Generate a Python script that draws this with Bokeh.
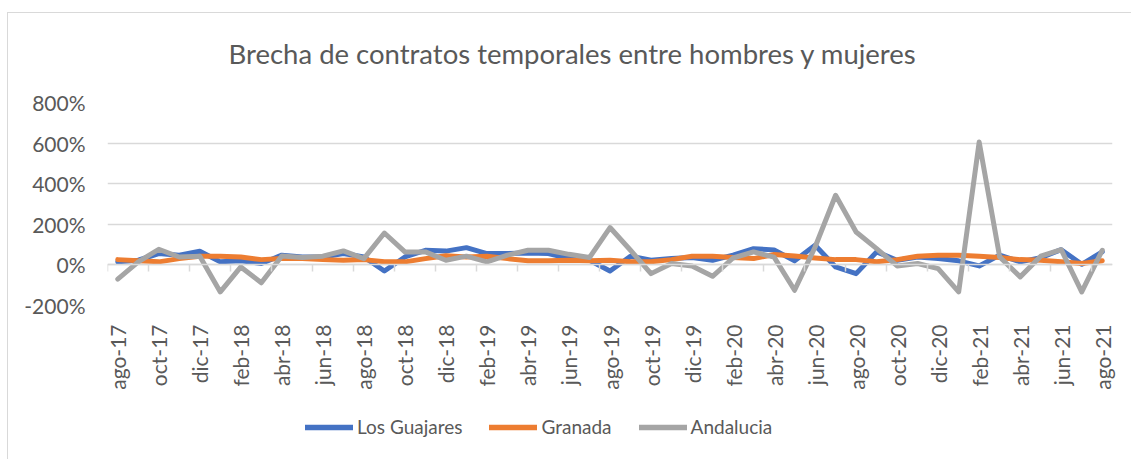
import math
from bokeh.plotting import figure
from bokeh.layouts import column
from bokeh.models import (Range1d, FixedTicker, LinearAxis, PrintfTickFormatter,
                          Legend, LegendItem, Title)
from bokeh.embed import file_html
from bokeh.resources import INLINE

months = ["ago-17", "sep-17", "oct-17", "nov-17", "dic-17", "ene-18", "feb-18", "mar-18",
          "abr-18", "may-18", "jun-18", "jul-18", "ago-18", "sep-18", "oct-18", "nov-18",
          "dic-18", "ene-19", "feb-19", "mar-19", "abr-19", "may-19", "jun-19", "jul-19",
          "ago-19", "sep-19", "oct-19", "nov-19", "dic-19", "ene-20", "feb-20", "mar-20",
          "abr-20", "may-20", "jun-20", "jul-20", "ago-20", "sep-20", "oct-20", "nov-20",
          "dic-20", "ene-21", "feb-21", "mar-21", "abr-21", "may-21", "jun-21", "jul-21",
          "ago-21"]

los_guajares = [15, 23, 56, 48, 67, 15, 20, 7, 48, 39, 39, 56, 39, -30, 39, 72, 68,
                85, 56, 56, 59, 56, 31, 23, -30, 43, 23, 31, 36, 23, 48, 80, 74,
                20, 97, -10, -43, 64, 23, 39, 31, 20, -5, 48, 15, 36, 75, 3, 64]
granada = [26, 20, 15, 31, 43, 43, 39, 26, 31, 31, 26, 23, 26, 15, 15, 31, 45,
           39, 43, 31, 20, 20, 23, 20, 23, 15, 15, 26, 43, 43, 36, 31, 51,
           44, 34, 26, 26, 15, 26, 43, 48, 48, 43, 36, 26, 23, 15, 7, 20]
andalucia = [-70, 15, 77, 39, 43, -133, -10, -88, 44, 36, 43, 69, 31, 157, 64, 64, 23,
             43, 15, 48, 72, 72, 52, 36, 184, 72, -43, 7, -5, -56, 34, 64, 38,
             -125, 88, 343, 162, 80, -5, 7, -18, -133, 605, 39, -59, 43, 75, -133, 72]

series_names = ["Los Guajares", "Granada", "Andalucia"]
series_colors = ["#4472C4", "#ED7D31", "#A5A5A5"]
y_ticks = [-200, 0, 200, 400, 600, 800]
title_text = "Brecha de contratos temporales entre hombres y mujeres"

FONT = "Lato"
TXT = "#595959"
GRID = "#d9d9d9"

idx = list(range(len(months)))
series = [los_guajares, granada, andalucia]

p = figure(width=1131, height=400, output_backend="svg", toolbar_location=None,
           x_range=Range1d(-0.5, len(months) - 0.5), y_range=Range1d(-200, 800),
           x_axis_location=None, y_axis_location=None,
           min_border_left=107, min_border_right=19, min_border_top=102, min_border_bottom=95)
p.outline_line_color = None
p.background_fill_color = "white"
p.border_fill_color = None
p.styles = {"background": "linear-gradient(#d9d9d9,#d9d9d9) 7px 12px / 1px 100% no-repeat, "
                          "linear-gradient(#d9d9d9,#d9d9d9) 7px 12px / 100% 1px no-repeat, white"}

p.add_layout(Title(text=title_text, align="left", offset=121, standoff=66, text_font=FONT,
                   text_font_size="27.5px", text_color=TXT, text_font_style="normal"), "above")

# y axis
yax = LinearAxis(ticker=FixedTicker(ticks=y_ticks), formatter=PrintfTickFormatter(format="%d%%"))
yax.axis_line_color = None
yax.major_tick_line_color = None
yax.minor_tick_line_color = None
yax.major_label_text_font = FONT
yax.major_label_text_font_size = "21px"
yax.major_label_text_color = TXT
yax.major_label_standoff = 16
p.add_layout(yax, "left")

p.ygrid.ticker = FixedTicker(ticks=y_ticks)
p.ygrid.grid_line_color = GRID
p.ygrid.grid_line_width = 1.5
p.xgrid.grid_line_color = None

# zero axis with boundary ticks
zax = LinearAxis(ticker=FixedTicker(ticks=[i - 0.5 for i in idx[::2]]), fixed_location=0)
zax.axis_line_color = GRID
zax.axis_line_width = 1.5
zax.major_tick_line_color = GRID
zax.major_tick_line_width = 1.5
zax.major_tick_out = 7
zax.major_tick_in = 0
zax.minor_tick_line_color = None
zax.major_label_text_font_size = "0px"
zax.major_label_standoff = 0
p.add_layout(zax, "below")

# category labels
xax = LinearAxis(ticker=FixedTicker(ticks=idx[::2]),
                 major_label_overrides={i: months[i] for i in idx[::2]})
xax.axis_line_color = None
xax.major_tick_line_color = None
xax.minor_tick_line_color = None
xax.major_label_orientation = math.pi / 2
xax.major_label_text_font = FONT
xax.major_label_text_font_size = "21px"
xax.major_label_text_color = TXT
xax.major_label_standoff = 13
p.add_layout(xax, "below")

for ys, c in zip(series, series_colors):
    p.line(idx, ys, line_color=c, line_width=5, line_join="round", line_cap="round")

# legend strip
lg = figure(width=1131, height=59, output_backend="svg", toolbar_location=None,
            x_range=Range1d(-0.5, len(months) - 0.5), y_range=Range1d(-200, 800),
            x_axis_location=None, y_axis_location=None,
            min_border_left=0, min_border_right=0, min_border_top=0, min_border_bottom=0)
lg.outline_line_color = None
lg.grid.grid_line_color = None
lg.border_fill_color = None
lg.background_fill_color = None
lg.styles = {"background": "linear-gradient(#d9d9d9,#d9d9d9) 7px 0px / 1px 100% no-repeat, white"}
items = []
for name, ys, c in zip(series_names, series, series_colors):
    r = lg.line(idx[:1], ys[:1], line_color=c, line_width=5.5, line_cap="round")
    items.append(LegendItem(label=name, renderers=[r]))
legend = Legend(items=items, orientation="horizontal", location=(198, 21),
                glyph_width=48, glyph_height=20, label_standoff=4, spacing=27,
                padding=0, margin=0, border_line_color=None, background_fill_alpha=0,
                label_text_font=FONT, label_text_font_size="19px", label_text_color=TXT)
lg.add_layout(legend, "center")

page = column(p, lg, spacing=0)
open("out.html", "w").write(file_html(page, INLINE))
